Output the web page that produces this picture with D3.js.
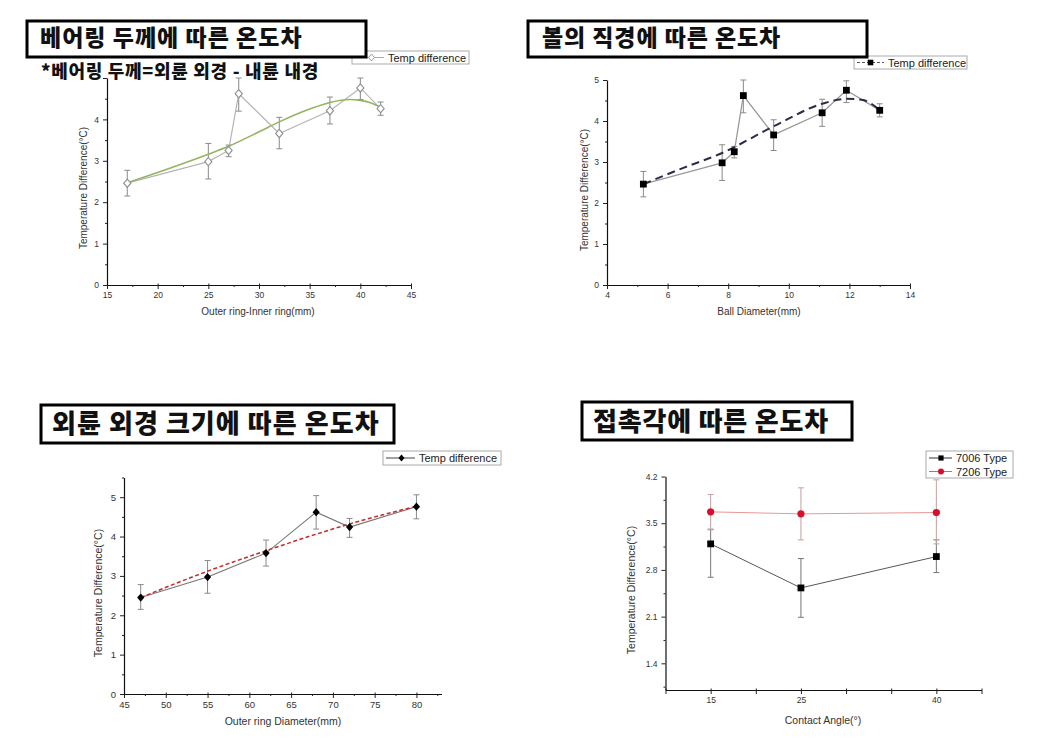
<!DOCTYPE html>
<html><head><meta charset="utf-8">
<script src="https://cdn.jsdelivr.net/npm/d3@7"></script>
<style>body{margin:0;background:#fff}svg{display:block}</style>
</head><body><svg id="c" width="1059" height="750"></svg>
<script>
// ---------- Panel 1: bearing thickness ----------
const thickX = [17, 25, 27, 28, 32, 37, 40, 42];
const thickY = [2.46, 2.98, 3.25, 4.62, 3.66, 4.21, 4.76, 4.26];
const thickLo = [2.15, 2.56, 3.10, 4.20, 3.29, 3.89, 4.48, 4.10];
const thickHi = [2.77, 3.42, 3.38, 5.00, 4.05, 4.54, 5.00, 4.42];
const thickFitX = [17, 20, 25, 27, 30, 32, 35, 37, 39, 40, 41, 42];
const thickFitY = [2.47, 2.72, 3.16, 3.35, 3.70, 3.94, 4.25, 4.41, 4.48, 4.46, 4.40, 4.29];
const thickXTicks = [15, 20, 25, 30, 35, 40, 45];
const thickYTicks = [0, 1, 2, 3, 4, 5];
const thickYLabels = [0, 1, 2, 3, 4];

// ---------- Panel 2: ball diameter ----------
const ballX = [5.2, 7.8, 8.2, 8.5, 9.5, 11.1, 11.9, 13.0];
const ballY = [2.46, 2.98, 3.25, 4.62, 3.66, 4.20, 4.75, 4.26];
const ballLo = [2.15, 2.55, 3.10, 4.20, 3.28, 3.87, 4.45, 4.10];
const ballHi = [2.77, 3.42, 3.38, 5.00, 4.03, 4.53, 4.98, 4.42];
const ballFitX = [5.2, 6.5, 7.8, 9.5, 11.1, 11.9, 12.4, 13.0];
const ballFitY = [2.46, 2.85, 3.22, 3.87, 4.42, 4.54, 4.52, 4.27];
const ballXTicks = [4, 6, 8, 10, 12, 14];
const ballYTicks = [0, 1, 2, 3, 4, 5];

// ---------- Panel 3: outer ring diameter ----------
const odX = [47, 55, 62, 68, 72, 80];
const odY = [2.45, 2.97, 3.58, 4.62, 4.24, 4.76];
const odLo = [2.15, 2.56, 3.25, 4.19, 3.98, 4.45];
const odHi = [2.78, 3.39, 3.91, 5.04, 4.46, 5.06];
const odFitX = [47, 55, 62, 68, 72, 80];
const odFitY = [2.45, 3.12, 3.64, 4.06, 4.32, 4.77];
const odXTicks = [45, 50, 55, 60, 65, 70, 75, 80];
const odYTicks = [0, 1, 2, 3, 4, 5];

// ---------- Panel 4: contact angle ----------
const angleX = [15, 25, 40];
const t7006 = [3.19, 2.53, 3.00];
const t7006Lo = [2.69, 2.09, 2.76];
const t7006Hi = [3.41, 2.97, 3.25];
const t7206 = [3.67, 3.64, 3.66];
const t7206Lo = [3.40, 3.25, 3.19];
const t7206Hi = [3.93, 4.03, 4.15];
const angleXTicks = [10, 15, 20, 25, 30, 35, 40, 45];
const angleXLabels = [15, 25, 40];
const angleYTicks = [1.4, 2.1, 2.8, 3.5, 4.2];

// ---------- texts ----------
const titles = ["베어링 두께에 따른 온도차", "볼의 직경에 따른 온도차", "외륜 외경 크기에 따른 온도차", "접촉각에 따른 온도차"];
const subtitle = "*베어링 두께=외륜 외경 - 내륜 내경";
const yTitle = "Temperature Difference(°C)";
const xTitles = ["Outer ring-Inner ring(mm)", "Ball Diameter(mm)", "Outer ring Diameter(mm)", "Contact Angle(°)"];
const seriesNames = ["Temp difference", "7006 Type", "7206 Type"];

const svg = d3.select("#c");
svg.append("rect").attr("width", 1059).attr("height", 750).attr("fill", "#fff");
const LAT = "'Liberation Sans', Arial, sans-serif";
const KR = "'Noto Sans CJK KR', sans-serif";

function diamond(r) { return `M0,${-r*1.15}L${r},0L0,${r*1.15}L${-r},0Z`; }
function square(r) { return `M${-r},${-r}H${r}V${r}H${-r}Z`; }

function axes(g, x, y, c) {
  const xa = g.append("g").attr("transform", `translate(0,${y.range()[0]})`)
    .call(d3.axisBottom(x).tickValues(c.xTicks).tickSize(4).tickSizeOuter(0)
      .tickFormat(d => (c.xLabels || c.xTicks).includes(d) ? d : ""));
  g.append("g").attr("transform", `translate(0,${y.range()[0]})`)
    .call(d3.axisBottom(x).tickValues(c.xMinor).tickSize(2).tickFormat(""))
    .select(".domain").remove();
  const ya = g.append("g").attr("transform", `translate(${x.range()[0]},0)`)
    .call(d3.axisLeft(y).tickValues(c.yTicks).tickSize(4).tickSizeOuter(0)
      .tickFormat(d => (c.yLabels || c.yTicks).includes(d) ? d : ""));
  g.append("g").attr("transform", `translate(${x.range()[0]},0)`)
    .call(d3.axisLeft(y).tickValues(c.yMinor).tickSize(2).tickFormat(""))
    .select(".domain").remove();
  g.selectAll(".domain").attr("stroke", "#111").attr("stroke-width", 1.2);
  g.selectAll(".tick line").attr("stroke", "#222").attr("stroke-width", 1);
  g.selectAll(".tick text").attr("font-family", LAT).attr("font-size", c.tickFont).attr("fill", "#333");
  xa.selectAll(".tick line").attr("y1", -1.5);
  ya.selectAll(".tick text").attr("dx", "-1");
  g.append("text").attr("x", c.xTitlePos[0]).attr("y", c.xTitlePos[1])
    .attr("text-anchor", "middle").attr("font-family", LAT).attr("font-size", c.labFont)
    .attr("fill", "#333").text(c.xTitle);
  g.append("text").attr("transform", `translate(${c.yTitlePos[0]},${c.yTitlePos[1]}) rotate(-90)`)
    .attr("text-anchor", "middle").attr("font-family", LAT).attr("font-size", c.labFont)
    .attr("fill", "#333").text(yTitle);
}

function errorBars(g, x, y, xs, lo, hi, color) {
  xs.forEach((v, i) => {
    g.append("line").attr("x1", x(v)).attr("x2", x(v)).attr("y1", y(lo[i])).attr("y2", y(hi[i]))
      .attr("stroke", color).attr("stroke-width", 1);
    [lo[i], hi[i]].forEach(e => g.append("line").attr("x1", x(v) - 3).attr("x2", x(v) + 3)
      .attr("y1", y(e)).attr("y2", y(e)).attr("stroke", color).attr("stroke-width", 1));
  });
}

function titleBox(b, text, tx, ty, size, ls) {
  svg.append("rect").attr("x", b[0]).attr("y", b[1]).attr("width", b[2]).attr("height", b[3])
    .attr("fill", "#fff").attr("stroke", "#000").attr("stroke-width", 3);
  svg.append("text").attr("x", tx).attr("y", ty).attr("font-family", KR).attr("font-weight", 900)
    .attr("font-size", size).attr("letter-spacing", ls).attr("fill", "#111").text(text);
}

function legendBox(b, rows) {
  svg.append("rect").attr("x", b[0]).attr("y", b[1]).attr("width", b[2]).attr("height", b[3])
    .attr("fill", "#fff").attr("stroke", "#aaa").attr("stroke-width", 1);
  rows.forEach(r => {
    svg.append("line").attr("x1", b[0] + 3).attr("x2", r.tx - 4).attr("y1", r.y).attr("y2", r.y)
      .attr("stroke", r.line).attr("stroke-width", 1).attr("stroke-dasharray", r.dash || null);
    svg.append("path").attr("d", r.shape).attr("transform", `translate(${r.mx},${r.y})`)
      .attr("fill", r.fill).attr("stroke", r.stroke).attr("stroke-width", 1);
    svg.append("text").attr("x", r.tx).attr("y", r.y + 4).attr("font-family", LAT)
      .attr("font-size", 11).attr("fill", "#222").text(r.name);
  });
}

// ================= Panel 1 =================
{
  const g = svg.append("g");
  const x = d3.scaleLinear().domain([15, 45]).range([107, 411]);
  const y = d3.scaleLinear().domain([0, 5]).range([285, 78]);
  axes(g, x, y, { xTicks: thickXTicks, xMinor: [17.5, 22.5, 27.5, 32.5, 37.5, 42.5],
    yTicks: thickYTicks, yLabels: thickYLabels, yMinor: [0.5, 1.5, 2.5, 3.5, 4.5],
    tickFont: 8.5, labFont: 10, xTitle: xTitles[0], xTitlePos: [258, 315], yTitlePos: [87, 188] });
  errorBars(g, x, y, thickX, thickLo, thickHi, "#8a8a8a");
  g.append("path").datum(thickX.map((v, i) => [v, thickY[i]]))
    .attr("d", d3.line().x(d => x(d[0])).y(d => y(d[1])))
    .attr("fill", "none").attr("stroke", "#b5b5b5").attr("stroke-width", 1.2);
  g.append("path").datum(thickFitX.map((v, i) => [v, thickFitY[i]]))
    .attr("d", d3.line().curve(d3.curveMonotoneX).x(d => x(d[0])).y(d => y(d[1])))
    .attr("fill", "none").attr("stroke", "#93b463").attr("stroke-width", 1.6);
  g.selectAll(".m").data(thickX).enter().append("path").attr("d", diamond(3.6))
    .attr("transform", (d, i) => `translate(${x(d)},${y(thickY[i])})`)
    .attr("fill", "#fff").attr("stroke", "#8d8d8d").attr("stroke-width", 1.1);
  legendBox([352, 51, 117, 13], [{ y: 57.5, mx: 371.5, tx: 388, name: seriesNames[0], line: "#aaa",
    shape: diamond(3), fill: "#fff", stroke: "#999" }]);
  titleBox([27, 21, 339, 36], titles[0], 40, 46, 23, 1);
  svg.append("text").attr("x", 41).attr("y", 78).attr("font-family", KR).attr("font-weight", 900)
    .attr("font-size", 18).attr("letter-spacing", 0.7).attr("fill", "#111").text(subtitle);
}

// ================= Panel 2 =================
{
  const g = svg.append("g");
  const x = d3.scaleLinear().domain([4, 14]).range([607, 910]);
  const y = d3.scaleLinear().domain([0, 5]).range([285, 80]);
  axes(g, x, y, { xTicks: ballXTicks, xMinor: [5, 7, 9, 11, 13],
    yTicks: ballYTicks, yMinor: [0.5, 1.5, 2.5, 3.5, 4.5],
    tickFont: 8.5, labFont: 10, xTitle: xTitles[1], xTitlePos: [759, 315], yTitlePos: [588, 190] });
  errorBars(g, x, y, ballX, ballLo, ballHi, "#8a8a8a");
  g.append("path").datum(ballX.map((v, i) => [v, ballY[i]]))
    .attr("d", d3.line().x(d => x(d[0])).y(d => y(d[1])))
    .attr("fill", "none").attr("stroke", "#9a9a9a").attr("stroke-width", 1.3);
  g.append("path").datum(ballFitX.map((v, i) => [v, ballFitY[i]]))
    .attr("d", d3.line().curve(d3.curveMonotoneX).x(d => x(d[0])).y(d => y(d[1])))
    .attr("fill", "none").attr("stroke", "#2c2c48").attr("stroke-width", 2).attr("stroke-dasharray", "8,5");
  g.selectAll(".m").data(ballX).enter().append("path").attr("d", square(3.4))
    .attr("transform", (d, i) => `translate(${x(d)},${y(ballY[i])})`).attr("fill", "#000");
  legendBox([854, 56, 113, 13], [{ y: 62.5, mx: 870.5, tx: 888, name: seriesNames[0], line: "#555",
    dash: "3,2", shape: square(2.8), fill: "#000", stroke: "none" }]);
  titleBox([528, 21, 339, 36], titles[1], 542, 46, 23, 0.9);
}

// ================= Panel 3 =================
{
  const g = svg.append("g");
  const x = d3.scaleLinear().domain([45, 83]).range([124, 441.5]);
  const y = d3.scaleLinear().domain([0, 5.5]).range([694, 477.5]);
  axes(g, x, y, { xTicks: odXTicks, xMinor: [47.5, 52.5, 57.5, 62.5, 67.5, 72.5, 77.5, 82.5],
    yTicks: odYTicks, yMinor: [0.5, 1.5, 2.5, 3.5, 4.5, 5.5],
    tickFont: 9.5, labFont: 10.5, xTitle: xTitles[2], xTitlePos: [283, 725], yTitlePos: [102, 593] });
  errorBars(g, x, y, odX, odLo, odHi, "#8a8a8a");
  g.append("path").datum(odX.map((v, i) => [v, odY[i]]))
    .attr("d", d3.line().x(d => x(d[0])).y(d => y(d[1])))
    .attr("fill", "none").attr("stroke", "#777").attr("stroke-width", 1.1);
  g.append("path").datum(odFitX.map((v, i) => [v, odFitY[i]]))
    .attr("d", d3.line().curve(d3.curveMonotoneX).x(d => x(d[0])).y(d => y(d[1])))
    .attr("fill", "none").attr("stroke", "#c82a2a").attr("stroke-width", 1.5).attr("stroke-dasharray", "4,2.5");
  g.selectAll(".m").data(odX).enter().append("path").attr("d", diamond(3.6))
    .attr("transform", (d, i) => `translate(${x(d)},${y(odY[i])})`).attr("fill", "#000");
  legendBox([383, 451, 118, 14], [{ y: 458, mx: 401.5, tx: 419, name: seriesNames[0], line: "#444",
    shape: diamond(3), fill: "#000", stroke: "none" }]);
  titleBox([41, 405, 353, 38], titles[2], 52, 433, 26, 1.05);
}

// ================= Panel 4 =================
{
  const g = svg.append("g");
  const x = d3.scaleLinear().domain([10, 45]).range([665.5, 981.5]);
  const y = d3.scaleLinear().domain([1.0, 4.2]).range([690, 476.5]);
  axes(g, x, y, { xTicks: angleXTicks, xLabels: angleXLabels, xMinor: [],
    yTicks: angleYTicks, yMinor: [1.05, 1.75, 2.45, 3.15, 3.85],
    tickFont: 8.5, labFont: 10.5, xTitle: xTitles[3], xTitlePos: [823, 724], yTitlePos: [635, 590] });
  errorBars(g, x, y, angleX, t7006Lo, t7006Hi, "#777");
  errorBars(g, x, y, angleX, t7206Lo, t7206Hi, "#c4a0a0");
  g.append("path").datum(angleX.map((v, i) => [v, t7006[i]]))
    .attr("d", d3.line().x(d => x(d[0])).y(d => y(d[1])))
    .attr("fill", "none").attr("stroke", "#444").attr("stroke-width", 0.9);
  g.append("path").datum(angleX.map((v, i) => [v, t7206[i]]))
    .attr("d", d3.line().x(d => x(d[0])).y(d => y(d[1])))
    .attr("fill", "none").attr("stroke", "#e88a8a").attr("stroke-width", 0.9);
  g.selectAll(".s").data(angleX).enter().append("path").attr("d", square(3.4))
    .attr("transform", (d, i) => `translate(${x(d)},${y(t7006[i])})`).attr("fill", "#000");
  g.selectAll(".c").data(angleX).enter().append("circle").attr("r", 3.6)
    .attr("cx", d => x(d)).attr("cy", (d, i) => y(t7206[i])).attr("fill", "#d5102a");
  legendBox([926, 451, 87, 27], [
    { y: 458, mx: 941, tx: 956, name: seriesNames[1], line: "#333", shape: square(2.6), fill: "#000", stroke: "none" },
    { y: 471.5, mx: 941, tx: 956, name: seriesNames[2], line: "#e06060", shape: "M0,-3A3,3 0 1,1 0,3A3,3 0 1,1 0,-3Z", fill: "#d5102a", stroke: "none" }]);
  titleBox([582, 402, 270, 38], titles[3], 593, 431, 26, 0.8);
}
</script></body></html>
